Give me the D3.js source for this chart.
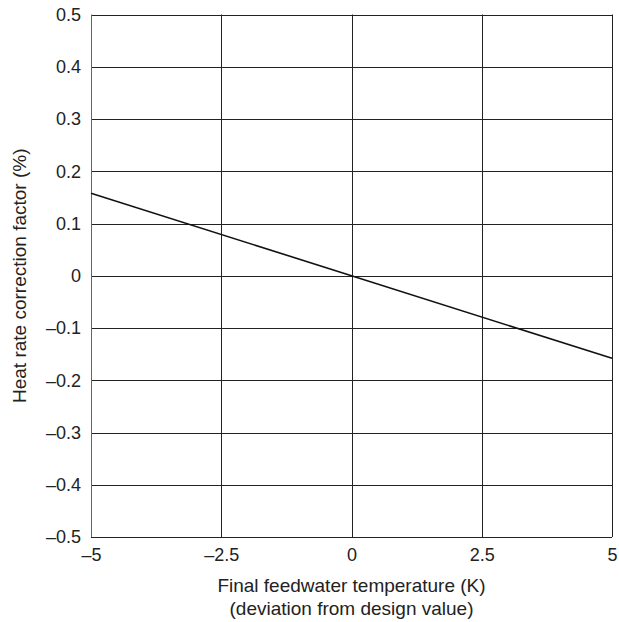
<!DOCTYPE html>
<html>
<head>
<meta charset="utf-8">
<script src="https://cdn.jsdelivr.net/npm/d3@7"></script>
<style>
  html, body { margin: 0; padding: 0; background: #fff; }
  svg { display: block; }
  text { font-family: "Liberation Sans", Arial, sans-serif; fill: #222; }
</style>
</head>
<body>
<svg id="chart" width="619" height="622"></svg>
<script>
// Final feedwater temperature deviation (K) vs heat rate correction (%)
const tempDeviation = [-5, 0, 5];
const correctionFactor = [0.158, 0, -0.158];
const xTicks = [-5, -2.5, 0, 2.5, 5];
const yTicks = [-0.5, -0.4, -0.3, -0.2, -0.1, 0, 0.1, 0.2, 0.3, 0.4, 0.5];

const svg = d3.select("#chart");
const margin = { left: 91, right: 7, top: 14.5, bottom: 85 };
const W = 619, H = 622;
const FS = 18;     // tick labels
const TFS = 19;    // axis titles

const x = d3.scaleLinear().domain([-5, 5]).range([margin.left, W - margin.right]);
const y = d3.scaleLinear().domain([-0.5, 0.5]).range([H - margin.bottom, margin.top]);

const fmt = v => {
  const s = (v === 0) ? "0" : String(v);
  return s.replace("-", "\u2013");
};

// grid lines
const g = svg.append("g");
g.selectAll(".hg").data(yTicks).join("line")
  .attr("x1", x(-5)).attr("x2", x(5))
  .attr("y1", d => Math.round(y(d)) + 0.5).attr("y2", d => Math.round(y(d)) + 0.5)
  .attr("stroke", "#222").attr("stroke-width", 1);
g.selectAll(".vg").data(xTicks).join("line")
  .attr("y1", y(-0.5)).attr("y2", y(0.5))
  .attr("x1", d => Math.round(x(d)) + 0.5).attr("x2", d => Math.round(x(d)) + 0.5)
  .attr("stroke", d => d === -5 ? "#666" : "#222").attr("stroke-width", 1);

// axes labels
const yAxis = d3.axisLeft(y).tickValues(yTicks).tickFormat(fmt).tickSize(0).tickPadding(10);
svg.append("g").attr("transform", `translate(${x(-5)},0)`).call(yAxis)
  .call(s => s.select(".domain").remove())
  .selectAll("text").attr("font-size", FS).style("fill", "#222");

const xAxis = d3.axisBottom(x).tickValues(xTicks).tickFormat(fmt).tickSize(0).tickPadding(11);
svg.append("g").attr("transform", `translate(0,${y(-0.5)})`).call(xAxis)
  .call(s => s.select(".domain").remove())
  .selectAll("text").attr("font-size", FS).style("fill", "#222");
svg.selectAll("g").attr("font-family", null);

// data line
const line = d3.line().x((d, i) => x(tempDeviation[i])).y(d => y(d));
svg.append("path").datum(correctionFactor)
  .attr("d", line).attr("fill", "none").attr("stroke", "#111").attr("stroke-width", 1.6);

// titles
svg.append("text").attr("x", (x(-5) + x(5)) / 2).attr("y", 591.5)
  .attr("text-anchor", "middle").attr("font-size", TFS).text("Final feedwater temperature (K)");
svg.append("text").attr("x", (x(-5) + x(5)) / 2).attr("y", 614.5)
  .attr("text-anchor", "middle").attr("font-size", TFS).text("(deviation from design value)");
svg.append("text")
  .attr("transform", `translate(26,${(y(-0.5) + y(0.5)) / 2}) rotate(-90)`)
  .attr("text-anchor", "middle").attr("font-size", TFS).text("Heat rate correction factor (%)");
</script>
</body>
</html>
